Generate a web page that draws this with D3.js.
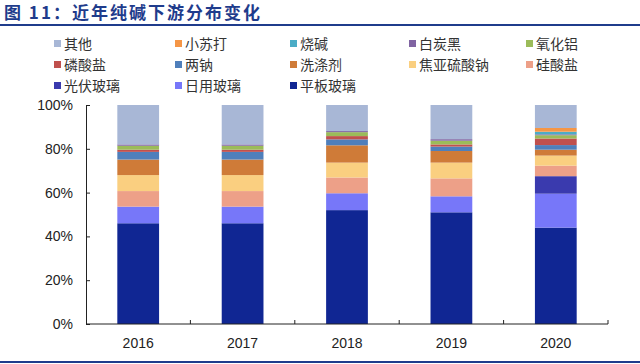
<!DOCTYPE html>
<html><head><meta charset="utf-8">
<script src="https://cdn.jsdelivr.net/npm/d3@7"></script>
<style>body{margin:0;background:#fff;}svg{display:block;}</style>
</head><body><svg id="c" width="640" height="364"></svg>
<script>
const years = ["2016","2017","2018","2019","2020"];
// series, bottom to top (percent)
const seriesNames = ["平板玻璃","日用玻璃","光伏玻璃","硅酸盐","焦亚硫酸钠","洗涤剂","两钠","磷酸盐","氧化铝","白炭黑","烧碱","小苏打","其他"];
const pingban   = [46, 46, 52, 51, 44];
const riyong    = [7.6, 7.6, 7.7, 7.3, 15.5];
const guangfu   = [0, 0, 0, 0, 8];
const guisuan   = [7.1, 7.1, 7.2, 8.2, 4.8];
const jiaoya    = [7.3, 7.3, 6.8, 7.2, 4.6];
const xidi      = [7.1, 7.1, 7.9, 5.3, 2.7];
const liangna   = [3.5, 3.5, 2.7, 2.0, 2.1];
const linsuan   = [1.0, 1.0, 1.5, 1.0, 3.0];
const yanghualv = [1.8, 1.8, 1.8, 1.7, 1.5];
const baitan    = [0.6, 0.6, 0.5, 0.7, 0.4];
const shaojian  = [0, 0, 0, 0, 1.2];
const xiaosu    = [0, 0, 0, 0, 1.7];
const qita      = [18, 18, 11.9, 15.6, 10.5];
const yTicks = [0, 20, 40, 60, 80, 100];
const legendOrder = ["其他","小苏打","烧碱","白炭黑","氧化铝","磷酸盐","两钠","洗涤剂","焦亚硫酸钠","硅酸盐","光伏玻璃","日用玻璃","平板玻璃"];
const colors = {"平板玻璃":"#102693","日用玻璃":"#7777F9","光伏玻璃":"#3A3AAE","硅酸盐":"#EDA088","焦亚硫酸钠":"#FACF80","洗涤剂":"#CF7B38","两钠":"#4F7FBB","磷酸盐":"#C0504D","氧化铝":"#9BBB59","白炭黑":"#8064A2","烧碱":"#4BACC6","小苏打":"#F59646","其他":"#A8B7D6"};

const seriesVals = [pingban,riyong,guangfu,guisuan,jiaoya,xidi,liangna,linsuan,yanghualv,baitan,shaojian,xiaosu,qita];
const rows = years.map((y,i)=>{const o={year:y}; seriesNames.forEach((s,k)=>o[s]=seriesVals[k][i]); return o;});
const stack = d3.stack().keys(seriesNames)(rows);

const svg = d3.select("#c");
const font = "'Liberation Sans', Arial, sans-serif";
const cjk = "'Noto Sans CJK SC', sans-serif";

// title
svg.append("text").attr("x",4).attr("y",19).attr("fill","#1F3C8C").attr("font-family",cjk).attr("font-weight","bold").attr("font-size",17).attr("letter-spacing","2px").text("图 11：近年纯碱下游分布变化");
svg.append("rect").attr("x",0).attr("y",24).attr("width",640).attr("height",2).attr("fill","#1F3C8C");
svg.append("rect").attr("x",0).attr("y",361).attr("width",640).attr("height",2).attr("fill","#1F3C8C");

const x = d3.scaleBand().domain(years).range([86,608]).paddingInner(0.6).paddingOuter(0.3);
const y = d3.scaleLinear().domain([0,100]).range([324,105]);

svg.append("g").selectAll("g").data(stack).join("g").attr("fill",d=>colors[d.key])
  .selectAll("rect").data(d=>d).join("rect")
  .attr("x",d=>x(d.data.year)).attr("width",x.bandwidth())
  .attr("y",d=>y(d[1])).attr("height",d=>Math.max(0,y(d[0])-y(d[1])));

// y axis
const ya = svg.append("g").attr("transform","translate(86,0)")
  .call(d3.axisLeft(y).tickValues(yTicks).tickFormat(d=>d+"%").tickSizeInner(-4).tickSizeOuter(-4).tickPadding(13));
ya.selectAll("text").attr("font-family",font).attr("font-size",14).attr("fill","#222");
ya.selectAll("line,path").attr("stroke","#222");

// x axis with ticks between categories
const xa = svg.append("g").attr("transform","translate(0,324)");
xa.append("line").attr("x1",86).attr("x2",608).attr("y1",0).attr("y2",0).attr("stroke","#222");
const bounds = d3.range(years.length+1).map(i=>86+i*(522/years.length));
xa.selectAll("line.t").data(bounds.slice(1)).join("line").attr("class","t")
  .attr("x1",d=>d).attr("x2",d=>d).attr("y1",0).attr("y2",-4).attr("stroke","#222");
xa.selectAll("text").data(years).join("text")
  .attr("x",d=>x(d)+x.bandwidth()/2).attr("y",24).attr("text-anchor","middle")
  .attr("font-family",font).attr("font-size",14).attr("fill","#222").text(d=>d);

// legend
const colX = [54,175,290,409,526];
const rowY = [44,65,86];
const lg = svg.append("g");
legendOrder.forEach((name,i)=>{
  const cx = colX[i%5], cy = rowY[Math.floor(i/5)];
  lg.append("rect").attr("x",cx).attr("y",cy-4).attr("width",7).attr("height",7).attr("fill",colors[name]);
  lg.append("text").attr("x",cx+10).attr("y",cy+5).attr("font-family",cjk).attr("font-size",14).attr("fill","#333").text(name);
});
</script></body></html>
